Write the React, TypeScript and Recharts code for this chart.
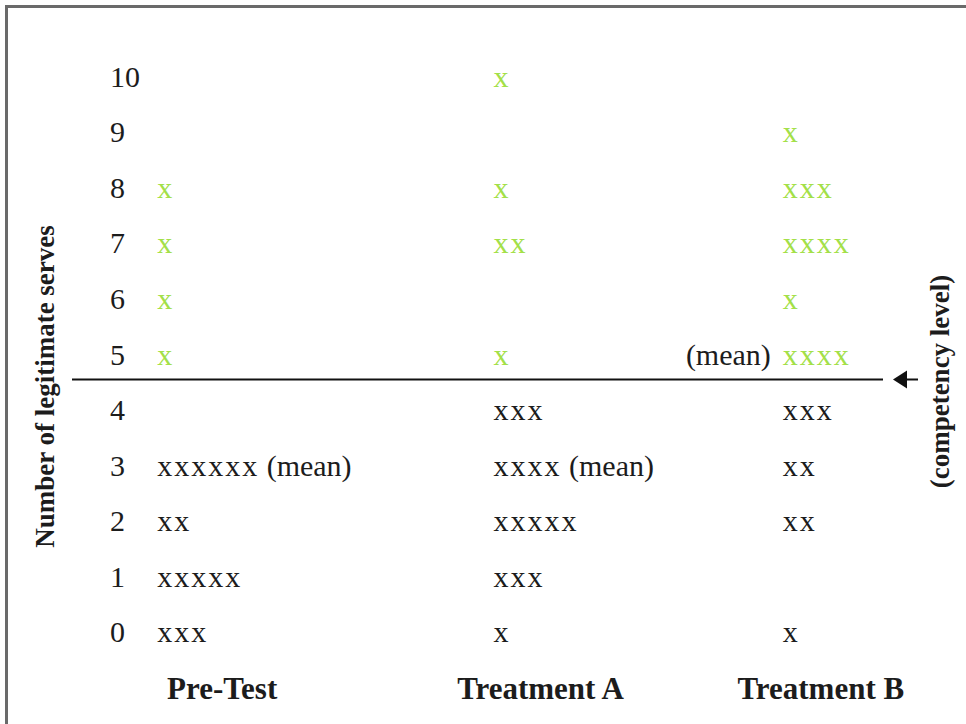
import { ScatterChart, Scatter, XAxis, YAxis, ReferenceLine } from "recharts";

// counts of "x" marks per number of legitimate serves (index 0..10)
const GROUPS = ["Pre-Test", "Treatment A", "Treatment B"];
const SERVES = [0, 1, 2, 3, 4, 5, 6, 7, 8, 9, 10];
const PRE_TEST_COUNTS = [3, 5, 2, 6, 0, 1, 1, 1, 1, 0, 0];
const TREATMENT_A_COUNTS = [1, 3, 5, 4, 3, 1, 0, 2, 1, 0, 1];
const TREATMENT_B_COUNTS = [1, 0, 2, 2, 3, 4, 1, 4, 3, 1, 0];
const MEAN_ROWS = [3, 3, 5];
const MEAN_SIDE = ["after", "after", "before"];
const COMPETENCY_LINE = 4.55;

const W = 966;
const H = 724;
const FONT = "'Liberation Serif', 'Times New Roman', serif";
const GREEN = "#a3e048";
const INK = "#1c1c1c";
// horizontal nudges per column (label centre, start of the x marks)
const LABEL_SHIFT = [15, 63, 73];
const MARK_SHIFT = [-50, 16, 35];

const buildRows = (counts: number[], gi: number) =>
  counts
    .map((count, i) => ({ group: gi, serves: SERVES[i], count }))
    .filter((d) => d.count > 0);

const SERIES = [PRE_TEST_COUNTS, TREATMENT_A_COUNTS, TREATMENT_B_COUNTS].map(buildRows);

function makeMarks(gi: number) {
  return (props: any) => {
    const { cx, cy, payload } = props;
    if (cx == null || cy == null) return <g />;
    const x = cx + MARK_SHIFT[gi];
    const y = cy + 10;
    const above = payload.serves > COMPETENCY_LINE;
    const hasMean = payload.serves === MEAN_ROWS[gi];
    return (
      <g>
        {hasMean && MEAN_SIDE[gi] === "before" && (
          <text x={x - 12} y={y} textAnchor="end" fontFamily={FONT} fontSize={30} fill={INK}>
            (mean)
          </text>
        )}
        <text x={x} y={y} fontFamily={FONT} fontSize={30} fill={above ? GREEN : INK}>
          <tspan letterSpacing={2}>{"x".repeat(payload.count)}</tspan>
          {hasMean && MEAN_SIDE[gi] === "after" && <tspan fill={INK}> (mean)</tspan>}
        </text>
      </g>
    );
  };
}

const YTick = (props: any) => {
  const { x, y, payload } = props;
  return (
    <text x={x + 38} y={y + 10} fontFamily={FONT} fontSize={30} fill={INK} textAnchor="start">
      {payload.value}
    </text>
  );
};

const XTick = (props: any) => {
  const { x, y, payload } = props;
  return (
    <text
      x={x + LABEL_SHIFT[payload.value]}
      y={y + 39}
      fontFamily={FONT}
      fontSize={31}
      fontWeight="bold"
      fill={INK}
      textAnchor="middle"
    >
      {GROUPS[payload.value]}
    </text>
  );
};

const YTitle = (props: any) => {
  const { viewBox } = props;
  const cx = viewBox.x + 37;
  const cy = viewBox.y + viewBox.height / 2 + 32;
  return (
    <text
      x={cx}
      y={cy}
      transform={`rotate(-90, ${cx}, ${cy})`}
      textAnchor="middle"
      dominantBaseline="central"
      fontFamily={FONT}
      fontSize={27}
      fontWeight="bold"
      fill={INK}
    >
      Number of legitimate serves
    </text>
  );
};

const CompetencyLabel = (props: any) => {
  const { viewBox } = props;
  const end = viewBox.x + viewBox.width;
  const y = viewBox.y;
  const tx = end + 57;
  const ty = y + 2;
  return (
    <g>
      <polygon points={`${end + 10},${y} ${end + 24},${y - 9} ${end + 24},${y + 9}`} fill="#111" />
      <line x1={end + 22} y1={y} x2={end + 35} y2={y} stroke="#111" strokeWidth={2} />
      <text
        x={tx}
        y={ty}
        transform={`rotate(-90, ${tx}, ${ty})`}
        textAnchor="middle"
        dominantBaseline="central"
        fontFamily={FONT}
        fontSize={27}
        fontWeight="bold"
        fill={INK}
      >
        (competency level)
      </text>
    </g>
  );
};

export default function App() {
  return (
    <div style={{ position: "absolute", left: 0, top: 0, width: W, height: H, background: "#fff", overflow: "hidden" }}>
      <div
        style={{
          position: "absolute",
          left: 5,
          top: 5,
          width: W,
          height: H,
          borderTop: "3px solid #6a6a6a",
          borderLeft: "3px solid #6a6a6a",
        }}
      />
      <div style={{ position: "absolute", left: 0, top: 0 }}>
        <ScatterChart width={W} height={H} margin={{ top: 49, right: 83, bottom: 0, left: 8 }}>
          <XAxis
            type="number"
            dataKey="group"
            domain={[-0.5, 2.5]}
            ticks={[0, 1, 2]}
            axisLine={false}
            tickLine={false}
            tickSize={0}
            tickMargin={0}
            height={64}
            tick={<XTick />}
          />
          <YAxis
            type="number"
            dataKey="serves"
            domain={[-0.5, 10.5]}
            ticks={SERVES}
            axisLine={false}
            tickLine={false}
            tickSize={0}
            tickMargin={0}
            width={64}
            tick={<YTick />}
            label={<YTitle />}
          />
          <ReferenceLine
            y={COMPETENCY_LINE}
            stroke="#111"
            strokeWidth={2}
            label={<CompetencyLabel />}
          />
          {SERIES.map((data, gi) => (
            <Scatter
              key={GROUPS[gi]}
              name={GROUPS[gi]}
              data={data}
              shape={makeMarks(gi)}
              isAnimationActive={false}
            />
          ))}
        </ScatterChart>
      </div>
    </div>
  );
}
